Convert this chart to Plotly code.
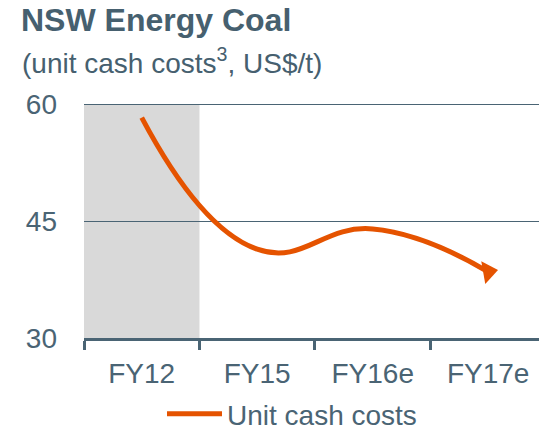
import plotly.graph_objects as go

# ---- data ----
categories = ["FY12", "FY15", "FY16e", "FY17e"]
unit_cash_costs = [58.3, 41.4, 44.0, 38.5]
y_ticks = [30, 45, 60]
shaded_category = "FY12"
series_name = "Unit cash costs"
title_text = "NSW Energy Coal"
subtitle_text = "(unit cash costs<sup>3</sup>, US$/t)"

# ---- layout constants ----
W, H = 539, 430
ML, MR, MT, MB = 84, 0, 102, 92
PW, PH = W - ML - MR, H - MT - MB
SLATE = "#4a6474"
TITLE_C = "#46606f"
ORANGE = "#e55300"
FONT = "Arial, Liberation Sans, sans-serif"


def px_x(px):
    return (px - ML) / PW


def px_y(py):
    return (H - MB - py) / PH


fig = go.Figure()
fig.add_trace(go.Scatter(
    x=categories, y=unit_cash_costs, mode="lines", name=series_name,
    line=dict(color=ORANGE, width=5, shape="spline", smoothing=1.3),
))
# arrow head on the last point
fig.add_trace(go.Scatter(
    x=categories[-1:], y=unit_cash_costs[-1:], mode="markers", showlegend=False,
    hoverinfo="skip",
    marker=dict(symbol="triangle-right", angle=-10, size=20, color=ORANGE,
                line=dict(width=0)),
))

fig.add_shape(type="rect", xref="x", yref="y",
              x0=shaded_category, x1=shaded_category, x0shift=-0.5, x1shift=0.5,
              y0=y_ticks[0], y1=y_ticks[-1],
              fillcolor="#d9d9d9", line=dict(width=0), layer="below")

fig.update_layout(
    width=W, height=H,
    margin=dict(l=ML, r=MR, t=MT, b=MB, pad=0, autoexpand=False),
    paper_bgcolor="white", plot_bgcolor="white",
    font=dict(family=FONT, color=SLATE),
    title=dict(text="<b>" + title_text + "</b>", font=dict(size=32, color=TITLE_C, family=FONT),
               xref="container", x=21 / W, xanchor="left",
               yref="container", y=1 - 9 / H, yanchor="top"),
    showlegend=True,
    legend=dict(orientation="h", x=px_x(292), xanchor="center", y=px_y(414), yanchor="middle",
                font=dict(size=28, color=SLATE), itemwidth=55, bgcolor="rgba(0,0,0,0)"),
    xaxis=dict(type="category", range=[-0.5, 3.44], showgrid=False, automargin=False,
               showline=True, linecolor=SLATE, linewidth=3,
               ticks="outside", tickson="boundaries", ticklen=9, tickwidth=3, tickcolor=SLATE,
               tickfont=dict(size=28, color=SLATE), ticklabelstandoff=8, fixedrange=True),
    yaxis=dict(range=[y_ticks[0], y_ticks[-1] + 0.3], tickvals=y_ticks, showgrid=True,
               automargin=False,
               gridcolor=SLATE, gridwidth=1, zeroline=False, showline=False,
               ticks="", tickfont=dict(size=28, color=SLATE), ticklabelstandoff=26,
               fixedrange=True),
    annotations=[dict(text=subtitle_text, xref="paper", yref="paper",
                      x=px_x(20), xanchor="left", y=px_y(41), yanchor="top",
                      showarrow=False, font=dict(size=28, color=TITLE_C, family=FONT))],
)

fig.write_html("out.html", config={"displayModeBar": False},
               post_script="document.body.style.margin='0';")
